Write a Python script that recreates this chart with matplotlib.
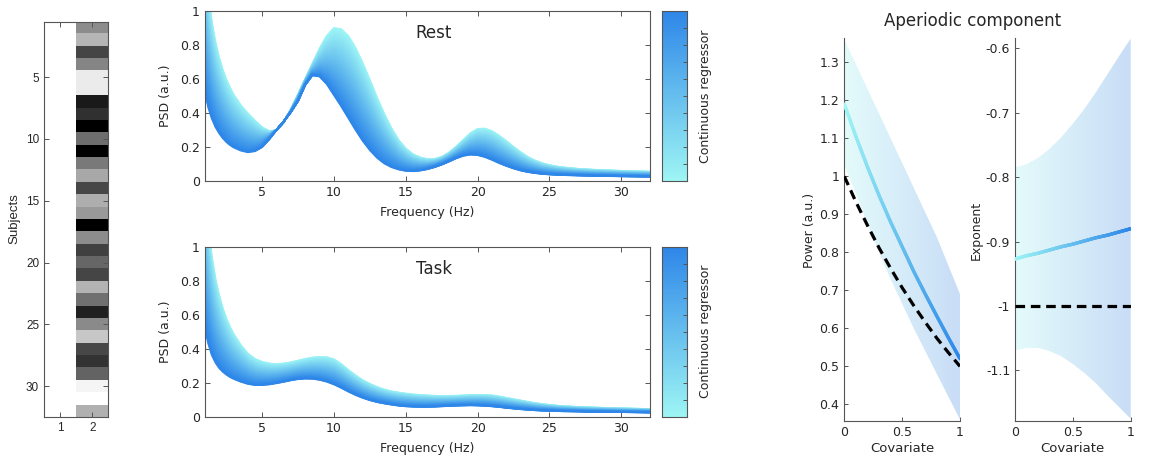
import numpy as np
import matplotlib.pyplot as plt
from matplotlib.colors import LinearSegmentedColormap
from matplotlib.collections import LineCollection

plt.rcParams['font.family'] = 'DejaVu Sans'

# ---- values ----
# design matrix: column 1 = intercept, column 2 = continuous regressor (grey level)
intercept = [1.0] * 32
regressor = [0.55, 0.71, 0.27, 0.52, 0.92, 0.92, 0.10, 0.19, 0.00, 0.43,
             0.00, 0.48, 0.66, 0.28, 0.68, 0.60, 0.00, 0.55, 0.25, 0.40,
             0.27, 0.70, 0.44, 0.13, 0.54, 0.78, 0.28, 0.20, 0.39, 0.96,
             1.00, 0.69]

# spectra at the lowest (cyan) and highest (blue) value of the regressor
freqs = [1, 1.25, 1.5, 1.75, 2, 2.25, 2.5, 2.75, 3,
         3.5, 4, 4.5, 5, 5.5, 6, 6.5, 7, 7.5, 8,
         8.5, 9, 9.5, 10, 10.5, 11, 11.5, 12, 12.5, 13,
         13.5, 14, 14.5, 15, 15.5, 16, 16.5, 17, 17.5, 18,
         18.5, 19, 19.5, 20, 20.5, 21, 21.5, 22, 22.5, 23,
         23.5, 24, 24.5, 25, 25.5, 26, 27, 28, 30, 32]
rest_low = [1.33, 1.095, 0.935, 0.817, 0.728, 0.657, 0.599, 0.552, 0.511,
            0.447, 0.398, 0.355, 0.315, 0.292, 0.298, 0.345, 0.42, 0.51, 0.60,
            0.69, 0.78, 0.855, 0.902, 0.895, 0.855, 0.785, 0.695, 0.595, 0.49,
            0.395, 0.31, 0.24, 0.19, 0.156, 0.137, 0.128, 0.128, 0.14, 0.165,
            0.2, 0.24, 0.28, 0.306, 0.308, 0.293, 0.266, 0.234, 0.2, 0.168,
            0.14, 0.119, 0.103, 0.092, 0.084, 0.078, 0.070, 0.065, 0.058, 0.053]
rest_high = [0.53, 0.432, 0.366, 0.317, 0.281, 0.252, 0.229, 0.211, 0.197,
             0.178, 0.168, 0.174, 0.198, 0.245, 0.30, 0.35, 0.405, 0.47, 0.565,
             0.622, 0.615, 0.57, 0.505, 0.44, 0.37, 0.30, 0.235, 0.18, 0.135,
             0.102, 0.08, 0.066, 0.058, 0.056, 0.06, 0.068, 0.08, 0.095, 0.113,
             0.132, 0.147, 0.154, 0.151, 0.14, 0.123, 0.104, 0.087, 0.072, 0.06,
             0.051, 0.045, 0.04, 0.037, 0.035, 0.033, 0.031, 0.029, 0.026, 0.024]
task_low = [1.37, 1.113, 0.938, 0.811, 0.716, 0.641, 0.58, 0.531, 0.489,
            0.423, 0.372, 0.34, 0.323, 0.313, 0.31, 0.313, 0.32, 0.33, 0.34,
            0.348, 0.352, 0.35, 0.338, 0.31, 0.275, 0.243, 0.215, 0.193, 0.175,
            0.16, 0.149, 0.142, 0.136, 0.131, 0.128, 0.125, 0.123, 0.122, 0.122,
            0.123, 0.125, 0.127, 0.128, 0.128, 0.125, 0.119, 0.111, 0.103, 0.095,
            0.087, 0.08, 0.074, 0.069, 0.065, 0.062, 0.057, 0.054, 0.049, 0.045]
task_high = [0.525, 0.43, 0.362, 0.318, 0.287, 0.265, 0.248, 0.234, 0.223,
             0.206, 0.193, 0.186, 0.186, 0.19, 0.197, 0.205, 0.214, 0.221, 0.224,
             0.223, 0.217, 0.206, 0.19, 0.17, 0.148, 0.128, 0.111, 0.097, 0.086,
             0.078, 0.071, 0.065, 0.061, 0.059, 0.058, 0.058, 0.059, 0.061, 0.063,
             0.065, 0.066, 0.067, 0.066, 0.064, 0.061, 0.057, 0.052, 0.048, 0.044,
             0.041, 0.038, 0.036, 0.035, 0.033, 0.032, 0.031, 0.029, 0.027, 0.025]

# aperiodic component against the covariate
cov = [0, 0.1, 0.2, 0.3, 0.4, 0.5, 0.6, 0.7, 0.8, 0.9, 1.0]
power_fit = [1.19, 1.105, 1.025, 0.95, 0.88, 0.815, 0.75, 0.69, 0.632, 0.575, 0.52]
power_true = [1.0, 0.933, 0.871, 0.812, 0.758, 0.707, 0.660, 0.616, 0.574, 0.536, 0.5]
power_upper = [1.36, 1.295, 1.23, 1.165, 1.10, 1.035, 0.97, 0.905, 0.84, 0.765, 0.69]
power_lower = [1.03, 0.955, 0.875, 0.80, 0.73, 0.665, 0.60, 0.54, 0.48, 0.42, 0.36]
expo_fit = [-0.927, -0.922, -0.918, -0.913, -0.908, -0.904, -0.899, -0.894, -0.890, -0.885, -0.880]
expo_true = [-1.0] * 11
expo_upper = [-0.785, -0.780, -0.770, -0.756, -0.738, -0.717, -0.694, -0.668, -0.640, -0.612, -0.585]
expo_lower = [-1.069, -1.065, -1.065, -1.070, -1.078, -1.090, -1.104, -1.120, -1.139, -1.157, -1.175]

# ---- figure ----
W, H = 1174, 459
fig = plt.figure(figsize=(W / 100, H / 100), dpi=100)
cmap = LinearSegmentedColormap.from_list('reg', ['#9ef6f5', '#2e87e8'])
band_cmap = LinearSegmentedColormap.from_list('band', ['#e4fbfb', '#c8ddf6'])
edge = '#555555'
txt = '#262626'


def add_ax(left, top, right, bottom):
    return fig.add_axes([left / W, 1 - bottom / H, (right - left) / W, (bottom - top) / H])


def ftext(x, y, s, **kw):
    fig.text(x / W, 1 - y / H, s, color=txt, ha='center', va='center', **kw)


def matlab_box(ax, size):
    for sp in ax.spines.values():
        sp.set_color(edge)
        sp.set_linewidth(0.8)
    ax.tick_params(direction='in', length=3.5, width=0.7, color=edge, top=True, right=True,
                   labelcolor=txt, labelsize=size)


# design matrix
ax = add_ax(44, 21.5, 108.3, 417)
ax.imshow(np.column_stack([intercept, regressor]), cmap='gray', vmin=0, vmax=1,
          aspect='auto', interpolation='nearest')
matlab_box(ax, 8.5)
ax.set_xticks([0, 1])
ax.set_xticklabels(['1', '2'])
ax.set_yticks(np.arange(4, 30, 5))
ax.set_yticklabels([str(i) for i in range(5, 31, 5)])
for lab in ax.get_xticklabels() + ax.get_yticklabels():
    lab.set_fontfamily('Liberation Sans')
ftext(14, 219, 'Subjects', rotation=90, fontsize=9.5, family='Liberation Sans')

# spectra
levels = np.linspace(0, 1, 90)
f = np.array(freqs)
panels = [(11.3, 180.7, rest_low, rest_high, 'Rest'),
          (246.7, 416.7, task_low, task_high, 'Task')]
for top, bottom, lo, hi, name in panels:
    ax = add_ax(204.7, top, 650, bottom)
    lo, hi = np.array(lo), np.array(hi)
    segs = [np.column_stack([f, (1 - t) * lo + t * hi]) for t in levels]
    ax.add_collection(LineCollection(segs, colors=cmap(levels), linewidths=1.3))
    ax.set_xlim(1, 32)
    ax.set_ylim(0, 1)
    ax.set_xticks([5, 10, 15, 20, 25, 30])
    ax.set_yticks([0, 0.2, 0.4, 0.6, 0.8, 1])
    ax.set_yticklabels(['0', '0.2', '0.4', '0.6', '0.8', '1'])
    matlab_box(ax, 9)
    ftext(434, top + 22, name, fontsize=12)
    ftext(166, (top + bottom) / 2, 'PSD (a.u.)', rotation=90, fontsize=9)
    ftext(427, bottom + 32, 'Frequency (Hz)', fontsize=9)

    cax = add_ax(662.3, top, 687, bottom)
    cax.imshow(np.linspace(0, 1, 256)[:, None], cmap=cmap, origin='lower', aspect='auto',
               extent=[0, 1, 0, 1])
    cax.set_xticks([])
    cax.yaxis.tick_right()
    cax.set_yticks(np.arange(1, 10) / 10)
    cax.set_yticklabels([])
    for sp in cax.spines.values():
        sp.set_color(edge)
        sp.set_linewidth(0.8)
    cax.tick_params(direction='in', length=3, width=0.7, color=edge)
    ftext(705, (top + bottom) / 2, 'Continuous regressor', rotation=90, fontsize=9)


def aperiodic_panel(left, fit, true, upper, lower, ylim, yticks, ylabels):
    ax = add_ax(left, 38, left + 115.7, 420.7)
    poly = ax.fill_between(cov, lower, upper, facecolor='none', edgecolor='none')
    grad = ax.imshow(np.linspace(0, 1, 256)[None, :], cmap=band_cmap, aspect='auto',
                     extent=[0, 1, ylim[0], ylim[1]], origin='lower', zorder=1)
    grad.set_clip_path(poly.get_paths()[0], transform=ax.transData)
    # colour the fitted line along the covariate
    xf = np.linspace(0, 1, 200)
    pts = np.column_stack([xf, np.interp(xf, cov, fit)]).reshape(-1, 1, 2)
    segs = np.concatenate([pts[:-1], pts[1:]], axis=1)
    ax.add_collection(LineCollection(segs, colors=cmap(xf[:-1]), linewidths=2.4,
                                     capstyle='round', zorder=3))
    ax.plot(cov, true, color='k', lw=2.3, dashes=(3, 1.8), zorder=4)
    ax.set_xlim(0, 1)
    ax.set_ylim(*ylim)
    ax.set_xticks([0, 0.5, 1])
    ax.set_xticklabels(['0', '0.5', '1'])
    ax.set_yticks(yticks)
    ax.set_yticklabels(ylabels)
    ax.spines['top'].set_visible(False)
    ax.spines['right'].set_visible(False)
    for sp in ('left', 'bottom'):
        ax.spines[sp].set_color(edge)
        ax.spines[sp].set_linewidth(0.8)
    ax.tick_params(direction='in', length=3, width=0.7, color=edge, labelcolor=txt,
                   labelsize=9)
    ftext(left + 57.8, 449, 'Covariate', fontsize=9.5)
    return ax


aperiodic_panel(844.3, power_fit, power_true, power_upper, power_lower, (0.357, 1.364),
                [0.4, 0.5, 0.6, 0.7, 0.8, 0.9, 1.0, 1.1, 1.2, 1.3],
                ['0.4', '0.5', '0.6', '0.7', '0.8', '0.9', '1', '1.1', '1.2', '1.3'])
aperiodic_panel(1015, expo_fit, expo_true, expo_upper, expo_lower, (-1.178, -0.584),
                [-1.1, -1.0, -0.9, -0.8, -0.7, -0.6],
                ['-1.1', '-1', '-0.9', '-0.8', '-0.7', '-0.6'])
ftext(810, 230, 'Power (a.u.)', rotation=90, fontsize=9)
ftext(976.7, 230, 'Exponent', rotation=90, fontsize=9)
ftext(973, 20.7, 'Aperiodic component', fontsize=12)

fig.savefig('out.png', dpi=100)
